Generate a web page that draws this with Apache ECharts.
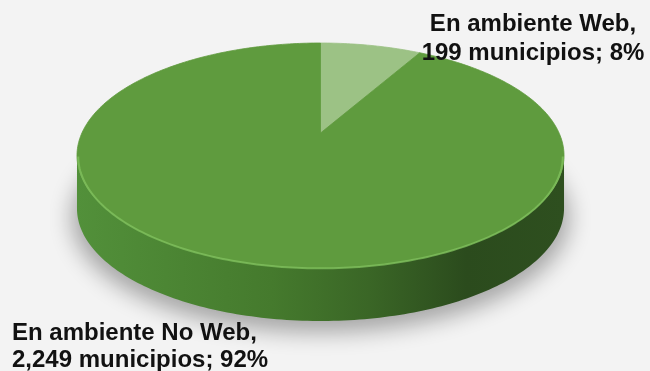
<!DOCTYPE html>
<html><head><meta charset="utf-8">
<script src="https://cdn.jsdelivr.net/npm/echarts@6/dist/echarts.min.js"></script>
<style>html,body{margin:0;padding:0;background:#f3f3f3}#c{width:650px;height:371px}</style>
</head><body><div id="c"></div>
<script>
// ---- data ----
const categories = ['En ambiente Web', 'En ambiente No Web'];
const values = [199, 2249];
const percents = [8, 92];
const unitLabel = 'municipios';

// ---- style / geometry (not data) ----
const topColors = ['#9cc285', '#5f9b3e'];
const CX = 320.5, CY = 133, A = 238.6, B = 108, K = 0.2, DEPTH = 53;
const total = values.reduce((s, v) => s + v, 0);
const starts = [];
values.reduce((acc, v, i) => { starts[i] = acc; return acc + v; }, 0);

function proj(r, th, dz) {
  const u = r * Math.sin(th), v = r * Math.cos(th), w = 1 + K * v;
  return [CX + A * u / w, CY - B * v / w + (dz || 0)];
}
function arc(t0, t1, dz, r) {
  const pts = [];
  const n = Math.max(2, Math.ceil(Math.abs(t1 - t0) / (Math.PI / 180)));
  for (let i = 0; i <= n; i++) pts.push(proj(r || 1, t0 + (t1 - t0) * i / n, dz));
  return pts;
}
function angles(idx, val) {
  const t0 = starts[idx] / total * Math.PI * 2;
  return [t0, t0 + val / total * Math.PI * 2];
}
const TR = Math.acos(-K), TL = Math.PI * 2 - TR;
const OFF = 2000;

const sideGrad = {
  type: 'linear', x: 77, y: 0, x2: 564, y2: 0, global: true,
  colorStops: [
    { offset: 0, color: '#52903a' },
    { offset: 0.4, color: '#457a2d' },
    { offset: 0.6, color: '#3a6626' },
    { offset: 0.8, color: '#2b4b1d' },
    { offset: 1, color: '#2e4f1f' }
  ]
};

const chart = echarts.init(document.getElementById('c'), null, { renderer: 'canvas' });
const seriesData = values.map((v, i) => ({ name: categories[i], value: v }));

function fmtNum(v) { return v.toLocaleString('en-US'); }

chart.setOption({
  backgroundColor: '#f3f3f3',
  animation: false,
  series: [
    { // soft shadow under the disk (shape drawn off-canvas, only its shadow lands here)
      type: 'custom', coordinateSystem: 'none', z: 1, silent: true,
      data: [total],
      renderItem: function () {
        const pts = arc(0, Math.PI * 2, DEPTH + 2, 1.02).map(p => [p[0] - OFF, p[1]]);
        return {
          type: 'polygon',
          shape: { points: pts },
          style: { fill: '#000', shadowBlur: 22, shadowOffsetX: OFF, shadowOffsetY: 6, shadowColor: 'rgba(0,0,0,0.32)' }
        };
      }
    },
    { // sides
      type: 'custom', coordinateSystem: 'none', z: 2, silent: true,
      data: seriesData,
      renderItem: function (params, api) {
        const [t0, t1] = angles(params.dataIndex, api.value(0));
        const a = Math.max(t0, TR), b = Math.min(t1, TL);
        if (b <= a) return { type: 'group', children: [] };
        const pts = arc(a, b, 0).concat(arc(b, a, DEPTH));
        return { type: 'polygon', shape: { points: pts }, style: { fill: sideGrad } };
      }
    },
    { // top faces
      type: 'custom', coordinateSystem: 'none', z: 3, silent: true,
      data: seriesData,
      renderItem: function (params, api) {
        const i = params.dataIndex;
        const [t0, t1] = angles(i, api.value(0));
        const pts = [[CX, CY]].concat(arc(t0, t1, 0));
        const children = [{ type: 'polygon', shape: { points: pts },
          style: { fill: topColors[i], stroke: topColors[i], lineWidth: 0.8 } }];
        const a = Math.max(t0, TR), b = Math.min(t1, TL);
        if (b > a) {
          children.push({ type: 'polyline', shape: { points: arc(a, b, 1.2, 0.995) },
            style: { stroke: 'rgba(130,195,95,0.75)', lineWidth: 2, fill: null } });
        }
        return { type: 'group', children: children };
      }
    }
  ],
  graphic: [
    { type: 'text', z: 10, style: {
        text: categories[0] + ',\n' + fmtNum(values[0]) + ' ' + unitLabel + '; ' + percents[0] + '%',
        x: 533, y: 10, align: 'center', verticalAlign: 'top', lineHeight: 29,
        font: 'bold 24px "Liberation Sans", Arial, sans-serif', fill: '#111' } },
    { type: 'text', z: 10, style: {
        text: categories[1] + ',\n' + fmtNum(values[1]) + ' ' + unitLabel + '; ' + percents[1] + '%',
        x: 12, y: 320, align: 'left', verticalAlign: 'top', lineHeight: 27,
        font: 'bold 24px "Liberation Sans", Arial, sans-serif', fill: '#111' } }
  ]
});
</script></body></html>
